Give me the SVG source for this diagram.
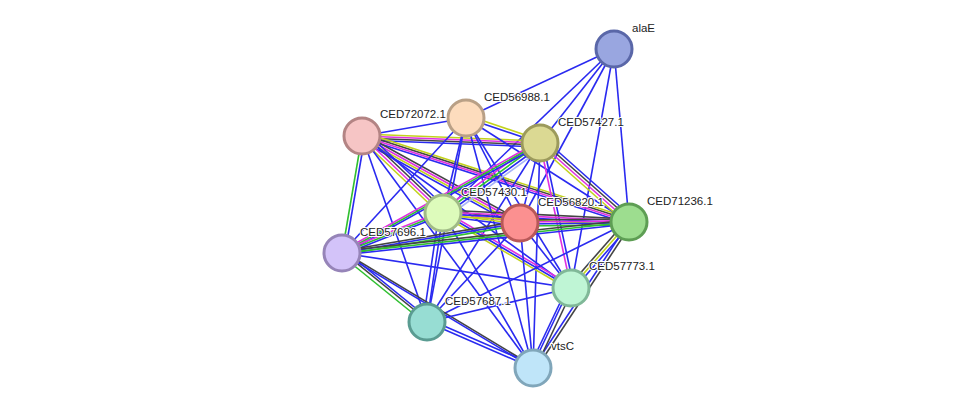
<svg xmlns="http://www.w3.org/2000/svg" width="975" height="413" viewBox="0 0 975 413">
<style>
line{stroke-width:1.6;fill:none}
.b{stroke:#2a2af0}.k{stroke:#444}.y{stroke:#c2d21c}.m{stroke:#e030e0}.g{stroke:#30c030}.l{stroke:#a8b4f8}
circle{stroke-width:3}
text{font-family:"Liberation Sans",Arial,sans-serif;font-size:11.5px;fill:#222;paint-order:stroke;stroke:#fff;stroke-width:2px}
</style>
<rect width="975" height="413" fill="#fff"/>
<g id="connectors">
<line class="b" x1="614" y1="49" x2="466" y2="118"/>
<line class="b" x1="614" y1="49" x2="540" y2="143"/>
<line class="b" x1="614" y1="49" x2="443" y2="213"/>
<line class="b" x1="614" y1="49" x2="520" y2="223"/>
<line class="b" x1="614" y1="49" x2="629" y2="222"/>
<line class="b" x1="614" y1="49" x2="571" y2="288"/>
<line class="b" x1="362" y1="136" x2="466" y2="118"/>
<line class="b" x1="362" y1="136" x2="540" y2="143" transform="translate(0,4)"/>
<line class="k" x1="362" y1="136" x2="540" y2="143" transform="translate(0,2)"/>
<line class="y" x1="362" y1="136" x2="540" y2="143" transform="translate(0,-2)"/>
<line class="m" x1="362" y1="136" x2="540" y2="143"/>
<line class="k" x1="362" y1="136" x2="629" y2="222" transform="translate(0,-2)"/>
<line class="y" x1="362" y1="136" x2="629" y2="222" transform="translate(0,-4)"/>
<line class="b" x1="362" y1="136" x2="629" y2="222" transform="translate(0,2)"/>
<line class="m" x1="362" y1="136" x2="629" y2="222"/>
<line class="k" x1="362" y1="136" x2="520" y2="223" transform="translate(1,-2)"/>
<line class="y" x1="362" y1="136" x2="520" y2="223" transform="translate(-1,2)"/>
<line class="m" x1="362" y1="136" x2="520" y2="223"/>
<line class="b" x1="362" y1="136" x2="520" y2="223" transform="translate(-2,4)"/>
<line class="k" x1="362" y1="136" x2="443" y2="213" transform="translate(2,-2)"/>
<line class="m" x1="362" y1="136" x2="443" y2="213"/>
<line class="y" x1="362" y1="136" x2="443" y2="213" transform="translate(-2,2)"/>
<line class="b" x1="362" y1="136" x2="443" y2="213" transform="translate(4,-4)"/>
<line class="g" x1="362" y1="136" x2="342" y2="253"/>
<line class="b" x1="362" y1="136" x2="342" y2="253" transform="translate(3,0)"/>
<line class="b" x1="362" y1="136" x2="427" y2="322"/>
<line class="b" x1="362" y1="136" x2="533" y2="368"/>
<line class="b" x1="362" y1="136" x2="571" y2="288"/>
<line class="b" x1="466" y1="118" x2="540" y2="143"/>
<line class="y" x1="466" y1="118" x2="540" y2="143" transform="translate(0,-3)"/>
<line class="b" x1="466" y1="118" x2="342" y2="253"/>
<line class="b" x1="466" y1="118" x2="443" y2="213"/>
<line class="b" x1="466" y1="118" x2="520" y2="223"/>
<line class="b" x1="466" y1="118" x2="629" y2="222"/>
<line class="b" x1="466" y1="118" x2="571" y2="288"/>
<line class="b" x1="466" y1="118" x2="533" y2="368"/>
<line class="b" x1="466" y1="118" x2="427" y2="322"/>
<line class="m" x1="540" y1="143" x2="443" y2="213" transform="translate(-2,-2)"/>
<line class="g" x1="540" y1="143" x2="443" y2="213"/>
<line class="b" x1="540" y1="143" x2="443" y2="213" transform="translate(2,2)"/>
<line class="l" x1="540" y1="143" x2="443" y2="213" transform="translate(4,4)"/>
<line class="m" x1="540" y1="143" x2="342" y2="253" transform="translate(0,-2)"/>
<line class="g" x1="540" y1="143" x2="342" y2="253"/>
<line class="b" x1="540" y1="143" x2="342" y2="253" transform="translate(0,2)"/>
<line class="b" x1="540" y1="143" x2="520" y2="223"/>
<line class="k" x1="540" y1="143" x2="629" y2="222" transform="translate(2,-2)"/>
<line class="m" x1="540" y1="143" x2="629" y2="222"/>
<line class="y" x1="540" y1="143" x2="629" y2="222" transform="translate(-2,2)"/>
<line class="b" x1="540" y1="143" x2="629" y2="222" transform="translate(4,-4)"/>
<line class="m" x1="540" y1="143" x2="571" y2="288"/>
<line class="b" x1="540" y1="143" x2="571" y2="288" transform="translate(3,0)"/>
<line class="b" x1="540" y1="143" x2="533" y2="368"/>
<line class="b" x1="540" y1="143" x2="427" y2="322"/>
<line class="k" x1="443" y1="213" x2="520" y2="223" transform="translate(0,-3)"/>
<line class="m" x1="443" y1="213" x2="520" y2="223" transform="translate(0,-1)"/>
<line class="y" x1="443" y1="213" x2="520" y2="223" transform="translate(0,1)"/>
<line class="b" x1="443" y1="213" x2="520" y2="223" transform="translate(0,3)"/>
<line class="k" x1="443" y1="213" x2="629" y2="222" transform="translate(0,-3)"/>
<line class="m" x1="443" y1="213" x2="629" y2="222" transform="translate(0,-1)"/>
<line class="b" x1="443" y1="213" x2="629" y2="222" transform="translate(0,1)"/>
<line class="y" x1="443" y1="213" x2="629" y2="222" transform="translate(0,3)"/>
<line class="m" x1="443" y1="213" x2="342" y2="253" transform="translate(0,-2)"/>
<line class="g" x1="443" y1="213" x2="342" y2="253"/>
<line class="b" x1="443" y1="213" x2="342" y2="253" transform="translate(0,2)"/>
<line class="m" x1="443" y1="213" x2="571" y2="288" transform="translate(1,-2)"/>
<line class="b" x1="443" y1="213" x2="571" y2="288"/>
<line class="y" x1="443" y1="213" x2="571" y2="288" transform="translate(-1,2)"/>
<line class="b" x1="443" y1="213" x2="427" y2="322"/>
<line class="b" x1="443" y1="213" x2="427" y2="322" transform="translate(-4,0)"/>
<line class="b" x1="443" y1="213" x2="533" y2="368"/>
<line class="k" x1="520" y1="223" x2="629" y2="222" transform="translate(0,-3)"/>
<line class="m" x1="520" y1="223" x2="629" y2="222" transform="translate(0,-1)"/>
<line class="b" x1="520" y1="223" x2="629" y2="222" transform="translate(0,1)"/>
<line class="g" x1="520" y1="223" x2="629" y2="222" transform="translate(0,3)"/>
<line class="k" x1="520" y1="223" x2="342" y2="253" transform="translate(0,-2)"/>
<line class="b" x1="520" y1="223" x2="342" y2="253"/>
<line class="g" x1="520" y1="223" x2="342" y2="253" transform="translate(0,2)"/>
<line class="b" x1="520" y1="223" x2="571" y2="288"/>
<line class="b" x1="520" y1="223" x2="533" y2="368"/>
<line class="b" x1="520" y1="223" x2="427" y2="322"/>
<line class="k" x1="629" y1="222" x2="342" y2="253" transform="translate(0,-2)"/>
<line class="g" x1="629" y1="222" x2="342" y2="253"/>
<line class="b" x1="629" y1="222" x2="342" y2="253" transform="translate(0,2)"/>
<line class="k" x1="629" y1="222" x2="571" y2="288" transform="translate(-2,-2)"/>
<line class="y" x1="629" y1="222" x2="571" y2="288"/>
<line class="b" x1="629" y1="222" x2="571" y2="288" transform="translate(2,2)"/>
<line class="b" x1="629" y1="222" x2="533" y2="368"/>
<line class="k" x1="629" y1="222" x2="533" y2="368" transform="translate(3,1)"/>
<line class="b" x1="629" y1="222" x2="427" y2="322"/>
<line class="g" x1="342" y1="253" x2="427" y2="322" transform="translate(-1,2)"/>
<line class="k" x1="342" y1="253" x2="427" y2="322" transform="translate(1,-1)"/>
<line class="b" x1="342" y1="253" x2="427" y2="322" transform="translate(2,-3)"/>
<line class="k" x1="342" y1="253" x2="533" y2="368" transform="translate(0,-2)"/>
<line class="b" x1="342" y1="253" x2="533" y2="368"/>
<line class="b" x1="342" y1="253" x2="571" y2="288"/>
<line class="b" x1="571" y1="288" x2="427" y2="322"/>
<line class="k" x1="571" y1="288" x2="533" y2="368" transform="translate(2,1)"/>
<line class="b" x1="571" y1="288" x2="533" y2="368" transform="translate(-1,-1)"/>
<line class="b" x1="571" y1="288" x2="533" y2="368" transform="translate(-3,-2)"/>
<line class="b" x1="427" y1="322" x2="533" y2="368"/>
<line class="b" x1="427" y1="322" x2="533" y2="368" transform="translate(1,-3)"/>
</g>
<g id="alaE"><circle cx="614" cy="49" r="18" fill="#99a6e0" stroke="#5a67a8"/><text x="632" y="32">alaE</text></g>
<g id="CED56988.1"><circle cx="466" cy="118" r="18" fill="#fddcbd" stroke="#b9a086"/><text x="484" y="101">CED56988.1</text></g>
<g id="CED72072.1"><circle cx="362" cy="136" r="18" fill="#f6c5c5" stroke="#b38484"/><text x="380" y="118">CED72072.1</text></g>
<g id="CED57427.1"><circle cx="540" cy="143" r="18" fill="#dbd993" stroke="#9c9a5c"/><text x="558" y="126">CED57427.1</text></g>
<g id="CED57430.1"><circle cx="443" cy="213" r="18" fill="#ddfbbb" stroke="#a0ba86"/><text x="461" y="196">CED57430.1</text></g>
<g id="CED56820.1"><circle cx="520" cy="223" r="18" fill="#fb9090" stroke="#b85858"/><text x="538" y="206">CED56820.1</text></g>
<g id="CED71236.1"><circle cx="629" cy="222" r="18" fill="#9ddd8f" stroke="#5e9e54"/><text x="647" y="205">CED71236.1</text></g>
<g id="CED57696.1"><circle cx="342" cy="253" r="18" fill="#d3c3f9" stroke="#9684b8"/><text x="360" y="236">CED57696.1</text></g>
<g id="CED57773.1"><circle cx="571" cy="288" r="18" fill="#bff5d5" stroke="#80b898"/><text x="589" y="270">CED57773.1</text></g>
<g id="CED57687.1"><circle cx="427" cy="322" r="18" fill="#97ddd3" stroke="#5a9c92"/><text x="445" y="305">CED57687.1</text></g>
<g id="vtsC"><circle cx="533" cy="368" r="18" fill="#bfe5f9" stroke="#80a6ba"/><text x="551" y="350">vtsC</text></g>
</svg>
